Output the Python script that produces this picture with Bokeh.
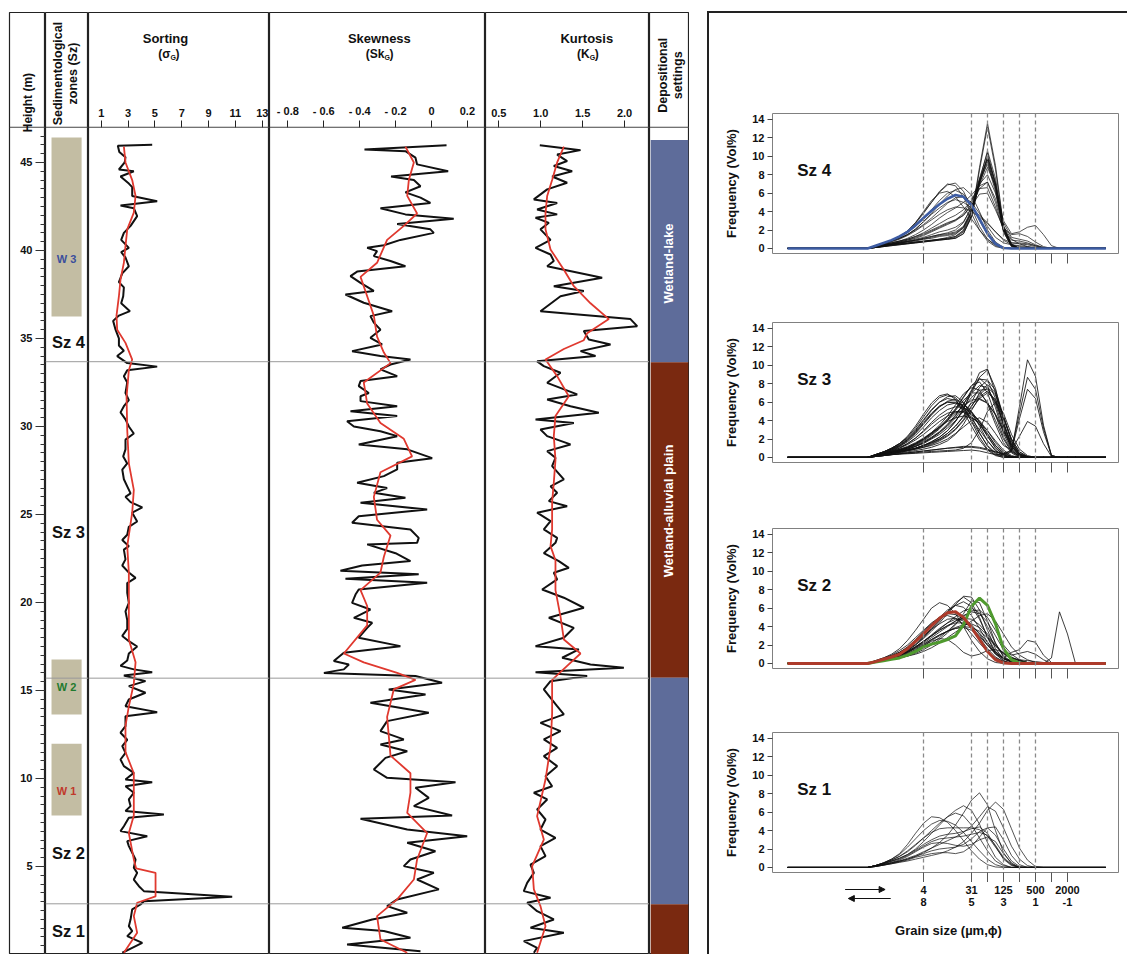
import math

from bokeh.core.properties import value
from bokeh.embed import file_html
from bokeh.layouts import column, row
from bokeh.models import (Arrow, FixedTicker, Label, LinearAxis, NormalHead,
                          Range1d, Spacer, Span)
from bokeh.plotting import figure
from bokeh.resources import INLINE

FONT = "Liberation Sans"

# ---------------- sediment log (height in m) ----------------
SORT_H = [46.0, 45.95, 45.6, 45.3, 45.0, 44.6, 44.5, 44.2, 43.8, 43.6,
          43.1, 42.8, 42.55, 42.4, 41.95, 41.4, 41.0, 40.6, 40.15, 39.9,
          39.6, 39.1, 38.7, 38.2, 37.9, 37.4, 37.0, 36.55, 36.3, 36.0,
          35.5, 35.0, 34.6, 34.3, 34.0, 33.8, 33.6, 33.4, 33.2, 32.85,
          32.5, 31.9, 31.5, 31.15, 30.8, 30.4, 30.0, 29.6, 29.25, 28.7,
          28.3, 27.9, 27.55, 27.0, 26.6, 26.2, 26.0, 25.7, 25.4, 25.1,
          24.6, 24.3, 23.85, 23.55, 23.2, 23.0, 22.45, 22.1, 21.7, 21.4,
          21.1, 20.55, 19.98, 19.5, 19.0, 18.5, 18.1, 17.8, 17.5, 17.1,
          16.7, 16.4, 16.2, 16.04, 15.85, 15.53, 15.25, 14.87, 14.49, 14.11,
          13.77, 13.54, 12.97, 12.6, 12.2, 11.84, 11.46, 11.08, 10.7, 10.32,
          9.94, 9.79, 9.56, 9.19, 8.81, 8.43, 8.15, 7.96, 7.77, 7.29,
          7.01, 6.72, 6.44, 6.16, 5.78, 5.4, 4.93, 4.64, 4.26, 3.88,
          3.6, 3.28, 3.03, 2.84, 2.56, 2.0, 1.61, 1.33, 1.04, 0.66,
          0.38, 0.1]
SORT_V = [4.80, 2.24, 2.35, 2.81, 2.75, 2.32, 3.43, 2.44, 3.06, 3.31,
          3.31, 5.17, 2.44, 3.43, 3.68, 3.19, 2.69, 2.49, 3.06, 2.49,
          2.81, 3.06, 2.57, 2.32, 2.69, 2.64, 2.49, 3.14, 2.32, 1.89,
          2.07, 2.32, 2.32, 2.69, 2.19, 2.57, 2.94, 5.17, 2.94, 2.69,
          2.94, 2.81, 3.06, 2.69, 2.44, 2.81, 3.06, 3.43, 2.81, 2.81,
          2.64, 2.94, 2.57, 2.69, 2.94, 3.19, 2.81, 3.19, 4.06, 3.31,
          3.68, 3.06, 2.94, 2.57, 3.06, 2.69, 2.81, 2.57, 3.06, 3.56,
          2.94, 2.94, 3.06, 2.81, 2.94, 2.94, 2.57, 3.06, 3.68, 3.06,
          2.94, 2.44, 3.43, 4.80, 2.69, 4.30, 3.06, 4.30, 3.06, 2.81,
          5.17, 2.81, 2.81, 2.44, 2.94, 2.57, 2.81, 2.44, 2.69, 3.43,
          2.81, 4.80, 2.81, 3.43, 3.06, 3.19, 2.81, 5.67, 3.06, 2.69,
          2.44, 4.43, 2.94, 3.06, 3.31, 3.56, 3.43, 3.68, 3.43, 3.81,
          4.18, 10.76, 4.18, 3.93, 3.31, 3.19, 3.06, 3.31, 2.94, 4.06,
          3.31, 2.57]
SORT_RED_H = [45.9, 45.0, 44.0, 43.1, 42.15, 41.2, 40.25, 39.3, 38.35, 37.4,
              36.3, 35.5, 34.75, 33.8, 33.2, 31.7, 29.8, 27.9, 26.4, 25.1,
              23.2, 21.7, 19.8, 17.9, 16.6, 15.4, 14.1, 13.0, 11.5, 10.3,
              8.8, 7.9, 6.9, 5.4, 4.9, 4.64, 3.3, 2.94, 2.18, 1.23, 0.1]
SORT_RED_V = [2.69, 2.81, 3.31, 3.56, 3.43, 2.94, 2.81, 2.69, 2.44, 2.32,
              2.14, 2.19, 2.81, 3.31, 3.06, 2.89, 2.94, 3.06, 3.43, 3.31,
              2.94, 3.06, 3.06, 3.06, 3.56, 3.43, 3.06, 2.81, 2.81, 3.43,
              3.43, 3.43, 3.06, 3.43, 3.6, 5.05, 5.05, 3.68, 3.43, 3.68, 2.69]

SKEW_H = [45.98, 45.74, 45.64, 45.27, 44.89, 44.5, 44.2, 44.0, 43.65, 43.3,
          43.0, 42.7, 42.4, 42.05, 41.8, 41.5, 41.2, 41.0, 40.6, 40.3,
          40.15, 39.96, 39.68, 39.4, 39.1, 38.8, 38.54, 38.16, 37.7, 37.5,
          37.03, 36.55, 36.27, 35.9, 35.5, 35.04, 34.66, 34.28, 34.0, 33.8,
          33.52, 33.24, 32.86, 32.58, 32.29, 31.9, 31.72, 31.44, 31.15, 30.87,
          30.59, 30.3, 30.0, 29.73, 29.45, 28.98, 28.7, 28.2, 27.94, 27.56,
          27.18, 26.8, 26.5, 26.23, 25.95, 25.66, 25.28, 24.9, 24.53, 24.15,
          23.67, 23.39, 23.3, 22.8, 22.35, 22.1, 21.8, 21.6, 21.35, 21.12,
          20.74, 20.45, 19.98, 19.6, 19.13, 18.85, 18.56, 18.0, 17.52, 17.14,
          16.67, 16.48, 16.2, 16.0, 15.82, 15.44, 15.06, 14.77, 14.3, 13.73,
          13.26, 12.69, 12.22, 11.93, 11.55, 11.17, 10.51, 10.04, 9.79, 9.47,
          8.9, 8.43, 7.9, 7.71, 7.1, 6.72, 6.35, 5.87, 5.4, 5.02,
          4.64, 4.26, 3.7, 3.13, 2.75, 2.37, 1.99, 1.52, 1.33, 0.95,
          0.57, 0.19]
SKEW_V = [0.084, -0.373, -0.145, -0.089, -0.080, 0.093, -0.225, -0.098, -0.061, -0.145,
          -0.061, -0.006, -0.284, -0.145, 0.124, -0.191, -0.006, 0.013, -0.173, -0.265,
          -0.358, -0.303, -0.321, -0.228, -0.145, -0.414, -0.451, -0.395, -0.321, -0.479,
          -0.377, -0.219, -0.340, -0.321, -0.284, -0.340, -0.275, -0.442, -0.284, -0.117,
          -0.228, -0.284, -0.191, -0.395, -0.405, -0.349, -0.395, -0.395, -0.191, -0.451,
          -0.191, -0.470, -0.432, -0.284, -0.191, -0.405, -0.135, 0.004, -0.191, -0.191,
          -0.265, -0.414, -0.247, -0.321, -0.145, -0.395, -0.024, -0.405, -0.442, -0.117,
          -0.071, -0.080, -0.358, -0.200, -0.117, -0.386, -0.507, -0.071, -0.479, -0.024,
          -0.405, -0.423, -0.442, -0.340, -0.432, -0.330, -0.358, -0.405, -0.173, -0.488,
          -0.544, -0.460, -0.488, -0.599, -0.089, 0.059, -0.238, -0.033, -0.340, -0.015,
          -0.247, -0.284, -0.154, -0.284, -0.135, -0.256, -0.321, -0.247, 0.134, -0.089,
          -0.015, -0.098, 0.115, -0.395, -0.135, 0.199, -0.135, 0.022, -0.117, -0.154,
          0.013, -0.080, 0.041, -0.191, -0.247, -0.135, -0.330, -0.497, -0.265, -0.117,
          -0.470, -0.061]
SKEW_RED_H = [45.9, 45.0, 44.0, 43.1, 42.1, 41.4, 40.6, 39.3, 38.5, 37.4,
              36.3, 35.1, 34.2, 33.6, 32.5, 31.3, 30.2, 29.3, 28.3, 27.4,
              26.0, 24.7, 23.8, 22.6, 21.7, 20.7, 19.8, 18.7, 17.1, 16.6,
              16.0, 15.6, 15.06, 13.5, 11.3, 10.3, 9.2, 8.05, 6.9, 5.4,
              4.26, 3.13, 2.18, 0.85, 0.1]
SKEW_RED_V = [-0.145, -0.098, -0.126, -0.135, -0.080, -0.154, -0.247, -0.303, -0.395, -0.358,
              -0.321, -0.303, -0.265, -0.228, -0.377, -0.358, -0.284, -0.154, -0.108, -0.284,
              -0.321, -0.303, -0.228, -0.265, -0.284, -0.395, -0.358, -0.358, -0.488, -0.377,
              -0.191, -0.089, -0.210, -0.247, -0.228, -0.117, -0.117, -0.135, -0.024, -0.080,
              -0.098, -0.191, -0.303, -0.284, -0.135]

KURT_H = [45.98, 45.7, 45.45, 45.08, 44.8, 44.5, 44.2, 43.85, 43.47, 42.9,
          42.7, 42.33, 42.05, 41.86, 41.57, 41.2, 40.6, 40.15, 39.77, 39.4,
          39.1, 38.45, 37.97, 37.7, 37.4, 36.55, 36.1, 35.7, 35.42, 34.94,
          34.66, 34.28, 34.0, 33.7, 33.43, 33.05, 32.48, 31.82, 31.53, 31.15,
          30.78, 30.4, 30.2, 29.83, 29.45, 28.98, 28.6, 28.22, 27.75, 26.99,
          26.6, 26.23, 25.76, 25.47, 25.1, 24.62, 24.15, 23.67, 23.39, 22.8,
          22.35, 21.97, 21.69, 21.31, 20.74, 20.27, 19.7, 19.13, 18.56, 18.0,
          17.52, 17.33, 16.86, 16.48, 16.29, 16.04, 15.82, 15.53, 15.06, 14.58,
          14.11, 13.64, 13.16, 12.69, 12.22, 11.74, 11.27, 10.7, 10.13, 9.56,
          9.19, 8.81, 8.24, 7.67, 7.1, 6.63, 6.16, 5.59, 5.11, 4.64,
          4.07, 3.6, 3.22, 2.94, 2.46, 1.99, 1.52, 1.23, 0.76, 0.38,
          0.1]
KURT_V = [0.989, 1.475, 1.196, 1.315, 1.156, 1.375, 1.136, 1.315, 1.077, 0.918,
          1.196, 0.957, 1.196, 0.938, 1.097, 0.997, 1.117, 0.938, 1.117, 1.156,
          1.077, 1.733, 1.156, 1.514, 1.236, 0.997, 2.071, 2.151, 1.514, 1.574,
          1.833, 1.475, 1.654, 0.957, 1.037, 1.236, 1.077, 1.435, 1.077, 1.355,
          1.693, 0.938, 1.395, 0.997, 1.077, 1.355, 1.077, 1.176, 1.136, 1.276,
          1.117, 1.196, 1.097, 1.315, 0.957, 1.117, 1.037, 1.196, 1.176, 1.037,
          1.216, 1.335, 1.156, 1.196, 1.017, 1.276, 1.514, 1.097, 1.395, 1.276,
          0.938, 1.455, 1.256, 1.594, 1.992, 0.938, 1.554, 1.117, 1.037, 1.117,
          1.196, 1.276, 0.997, 1.236, 1.037, 1.196, 1.037, 1.196, 1.057, 1.136,
          0.918, 1.077, 0.957, 1.057, 0.997, 1.176, 0.997, 1.057, 0.878, 0.918,
          0.838, 0.798, 1.117, 0.838, 0.957, 1.156, 0.878, 1.276, 0.798, 0.957,
          0.918]
KURT_RED_H = [45.9, 45.0, 44.0, 43.1, 42.1, 41.2, 40.06, 38.9, 37.97, 37.0,
              36.1, 35.3, 34.9, 34.4, 33.8, 32.86, 31.72, 30.6, 29.45, 28.1,
              26.8, 25.7, 24.15, 23.2, 22.4, 20.7, 19.2, 17.9, 17.1, 16.4,
              15.6, 13.7, 11.8, 9.94, 7.86, 6.53, 5.02, 3.7, 2.75, 1.61, 0.1]
KURT_RED_V = [1.276, 1.196, 1.136, 1.077, 1.057, 1.057, 1.117, 1.276, 1.395, 1.594,
              1.813, 1.554, 1.514, 1.276, 1.057, 1.196, 1.335, 1.176, 1.156, 1.176,
              1.156, 1.136, 1.136, 1.117, 1.176, 1.176, 1.236, 1.276, 1.475, 1.315,
              1.136, 1.136, 1.117, 1.057, 0.957, 1.037, 0.898, 0.918, 0.997, 1.057, 0.957]

HEIGHT_TICKS = [5, 10, 15, 20, 25, 30, 35, 40, 45]
HEIGHT_MINOR = [0.5 * i for i in range(1, 94)]
SORT_TICKS = [1, 3, 5, 7, 9, 11, 13]
SORT_TICK_LABELS = ["1", "3", "5", "7", "9", "11", "13"]
SKEW_TICKS = [-0.8, -0.6, -0.4, -0.2, 0, 0.2]
SKEW_TICK_LABELS = ["- 0.8", "- 0.6", "- 0.4", "- 0.2", "0", "0.2"]
KURT_TICKS = [0.5, 1.0, 1.5, 2.0]
KURT_TICK_LABELS = ["0.5", "1.0", "1.5", "2.0"]

ZONE_BOUNDS = [33.68, 15.7, 2.88]
ZONE_NAMES = ["Sz 4", "Sz 3", "Sz 2", "Sz 1"]
ZONE_LABEL_Y = [34.8, 23.98, 5.74, 1.36]

W_NAMES = ["W 3", "W 2", "W 1"]
W_TOP = [46.42, 16.76, 11.97]
W_BOTTOM = [36.25, 13.64, 7.9]
W_LABEL_Y = [39.5, 15.17, 9.3]
W_COLORS = ["#3b4f9c", "#1f7a2e", "#c0392b"]

DEP_TOP = [46.28, 33.65, 15.73, 2.85]
DEP_BOTTOM = [33.65, 15.73, 2.85, 0.0]
DEP_COLORS = ["#5e6c9a", "#7a2910", "#5e6c9a", "#7a2910"]
DEP_LABELS = ["Wetland-lake", "Wetland-alluvial plain"]
DEP_LABEL_Y = [39.26, 25.2]

# ---------------- grain-size distributions (phi grid) ----------------
PHI_GRID = [11.5, 11.0, 10.5, 10.0, 9.5, 9.0, 8.5, 8.0, 7.5, 7.0, 6.5, 6.0, 5.5, 5.0,
            4.5, 4.0, 3.5, 3.0, 2.5, 2.0, 1.5, 1.0, 0.5, 0.0, -0.5, -1.0, -1.5]
PHI_FINE_END = 16.5
PHI_COARSE_END = -3.4
GRAIN_CLASS_PHI = [8, 5, 4, 3, 2, 1]
GRAIN_TICKS = [8, 5, 4, 3, 2, 1, 0, -1]
GRAIN_LABEL_PHI = [8, 5, 3, 1, -1]
GRAIN_LABELS = ["4\n8", "31\n5", "125\n3", "500\n1", "2000\n-1"]
FREQ_TICKS = [0, 2, 4, 6, 8, 10, 12, 14]

SZ4_CURVES = [
    [0, 0.3, 0.6, 0.9, 1.3, 1.9, 2.8, 3.9, 5.0, 6.1, 6.9, 7.1, 6.2, 4.4, 2.4, 1.0, 0.3, 0.05],
    [0, 0.25, 0.5, 0.8, 1.2, 1.8, 2.7, 3.8, 5.0, 6.2, 7.0, 6.8, 5.6, 3.8, 2.0, 0.8, 0.2],
    [0, 0.3, 0.6, 0.9, 1.2, 1.7, 2.4, 3.2, 4.2, 5.2, 6.0, 6.3, 5.9, 4.7, 3.0, 1.5, 0.5, 0.1],
    [0, 0.2, 0.5, 0.8, 1.1, 1.5, 2.1, 2.9, 3.8, 4.8, 5.7, 6.4, 6.6, 5.8, 4.0, 2.0, 0.7, 0.1],
    [0, 0.25, 0.55, 0.9, 1.3, 1.9, 2.8, 4.0, 5.2, 6.0, 6.2, 5.6, 4.5, 3.2, 2.0, 1.0, 0.4, 0.1],
    [0, 0.2, 0.5, 0.8, 1.1, 1.5, 2.0, 2.6, 3.3, 4.1, 4.9, 5.5, 5.6, 5.0, 3.8, 2.4, 1.2, 0.6, 0.4, 0.3, 0.2, 0.1],
    [0, 0.2, 0.4, 0.7, 1.0, 1.4, 1.9, 2.5, 3.1, 3.7, 4.2, 4.5, 4.4, 4.0, 3.4, 2.7, 1.8, 1.0, 0.6, 0.5, 0.4, 0.2],
    [0, 0.2, 0.5, 0.8, 1.1, 1.5, 2.1, 2.9, 3.7, 4.4, 5.0, 5.3, 5.0, 4.4, 3.6, 2.8, 1.8, 0.9, 0.4, 0.2, 0.1],
    [0, 0.2, 0.4, 0.6, 0.8, 1.1, 1.5, 2.0, 2.6, 3.3, 3.9, 4.4, 5.0, 5.8, 6.8, 7.2, 5.0, 2.0, 0.5],
    [0, 0.2, 0.4, 0.6, 0.8, 1.0, 1.3, 1.7, 2.2, 2.7, 3.2, 3.6, 4.2, 5.2, 6.5, 6.6, 4.5, 2.0, 0.9, 0.8, 0.6, 0.3, 0.1],
    [0, 0.15, 0.35, 0.5, 0.7, 0.9, 1.1, 1.4, 1.8, 2.2, 2.6, 3.0, 3.6, 4.6, 5.9, 6.0, 4.2, 2.2, 1.5, 1.6, 1.3, 0.7, 0.2],
    [0, 0.15, 0.3, 0.5, 0.7, 0.9, 1.2, 1.5, 1.9, 2.3, 2.7, 3.1, 3.8, 5.2, 7.0, 8.0, 6.0, 2.8, 1.2, 1.0, 0.8, 0.4, 0.1],
    [0, 0.15, 0.3, 0.45, 0.6, 0.75, 0.9, 1.1, 1.3, 1.5, 1.6, 1.8, 2.4, 4.2, 7.5, 9.6, 6.5, 1.8, 0.2],
    [0, 0.15, 0.3, 0.45, 0.6, 0.75, 0.9, 1.0, 1.2, 1.4, 1.5, 1.7, 2.3, 4.0, 7.3, 9.8, 6.9, 2.0, 0.3],
    [0, 0.15, 0.3, 0.4, 0.55, 0.7, 0.8, 1.0, 1.1, 1.3, 1.4, 1.6, 2.2, 3.9, 7.0, 9.4, 6.6, 2.0, 0.3],
    [0, 0.2, 0.35, 0.5, 0.65, 0.8, 1.0, 1.2, 1.5, 1.8, 2.0, 2.3, 2.9, 4.4, 7.2, 9.2, 6.2, 1.8, 0.2],
    [0, 0.1, 0.25, 0.4, 0.5, 0.6, 0.7, 0.8, 0.9, 1.0, 1.1, 1.3, 1.9, 3.6, 7.2, 10.0, 7.2, 2.2, 0.3],
    [0, 0.1, 0.25, 0.35, 0.45, 0.55, 0.65, 0.75, 0.85, 0.95, 1.0, 1.2, 1.8, 3.4, 7.4, 10.6, 7.6, 2.4, 0.4],
    [0, 0.1, 0.2, 0.3, 0.4, 0.5, 0.6, 0.7, 0.8, 0.9, 1.0, 1.1, 1.6, 3.5, 8.8, 13.6, 9.0, 2.5, 0.4],
    [0, 0.1, 0.2, 0.3, 0.4, 0.5, 0.6, 0.7, 0.8, 0.9, 1.0, 1.1, 1.6, 3.4, 8.5, 13.2, 8.6, 2.3, 0.3],
    [0, 0.15, 0.3, 0.45, 0.6, 0.75, 0.9, 1.1, 1.3, 1.5, 1.7, 2.0, 2.8, 4.5, 6.5, 7.2, 5.4, 2.4, 1.0, 0.5, 0.2],
    [0, 0.1, 0.25, 0.4, 0.5, 0.6, 0.7, 0.8, 0.9, 1.0, 1.2, 1.5, 2.3, 4.0, 6.8, 8.8, 6.8, 3.0, 1.6, 1.8, 2.3, 2.5, 1.5, 0.3],
    [0, 0.1, 0.2, 0.35, 0.45, 0.55, 0.65, 0.75, 0.85, 1.0, 1.1, 1.3, 2.0, 3.8, 7.0, 9.9, 7.0, 2.1, 0.3],
    [0, 0.2, 0.4, 0.6, 0.8, 1.0, 1.3, 1.6, 2.0, 2.4, 2.8, 3.1, 3.6, 4.8, 7.6, 10.4, 7.0, 2.2, 0.6, 0.6, 0.5, 0.3],
]
SZ4_MEAN = [0, 0.3, 0.6, 0.9, 1.3, 1.8, 2.5, 3.3, 4.1, 4.8, 5.4, 5.8, 5.6, 4.7, 3.2, 1.6, 0.5, 0.05]

SZ3_CURVES = [
    [0, 0.3, 0.6, 1.0, 1.5, 2.3, 3.4, 4.7, 5.9, 6.7, 6.9, 6.3, 5.0, 3.4, 1.9, 0.8, 0.2],
    [0, 0.3, 0.6, 1.0, 1.5, 2.2, 3.2, 4.4, 5.6, 6.5, 6.8, 6.5, 5.5, 3.9, 2.2, 0.9, 0.3],
    [0, 0.3, 0.6, 0.9, 1.4, 2.0, 2.9, 4.0, 5.1, 6.0, 6.6, 6.7, 6.0, 4.5, 2.7, 1.2, 0.4, 0.1],
    [0, 0.25, 0.5, 0.8, 1.2, 1.8, 2.6, 3.6, 4.6, 5.5, 6.1, 6.3, 5.9, 4.9, 3.4, 1.8, 0.7, 0.2],
    [0, 0.3, 0.6, 0.9, 1.3, 1.9, 2.8, 3.8, 4.8, 5.6, 6.0, 5.9, 5.2, 4.0, 2.6, 1.3, 0.5, 0.1],
    [0, 0.25, 0.5, 0.8, 1.2, 1.7, 2.4, 3.3, 4.3, 5.1, 5.7, 5.9, 5.7, 5.0, 3.8, 2.3, 1.0, 0.3],
    [0, 0.2, 0.45, 0.7, 1.0, 1.5, 2.1, 2.9, 3.8, 4.6, 5.2, 5.5, 5.4, 4.9, 3.9, 2.6, 1.3, 0.4, 0.1],
    [0, 0.25, 0.5, 0.75, 1.1, 1.5, 2.1, 2.8, 3.6, 4.3, 4.8, 5.0, 4.9, 4.4, 3.6, 2.5, 1.3, 0.5, 0.1],
    [0, 0.2, 0.4, 0.7, 1.0, 1.4, 1.9, 2.5, 3.2, 3.9, 4.5, 4.9, 5.0, 4.7, 4.0, 2.9, 1.6, 0.6, 0.1],
    [0, 0.2, 0.4, 0.65, 0.9, 1.2, 1.6, 2.1, 2.7, 3.3, 3.9, 4.3, 4.5, 4.3, 3.8, 2.9, 1.8, 0.8, 0.2],
    [0, 0.3, 0.6, 1.0, 1.5, 2.1, 3.0, 4.1, 5.2, 6.0, 6.4, 6.2, 5.4, 4.2, 3.0, 1.8, 0.8, 0.2],
    [0, 0.3, 0.55, 0.9, 1.3, 1.9, 2.7, 3.7, 4.7, 5.5, 6.0, 6.0, 5.5, 4.7, 3.6, 2.3, 1.1, 0.3],
    [0, 0.15, 0.3, 0.5, 0.7, 0.9, 1.2, 1.6, 2.1, 2.7, 3.5, 4.5, 5.8, 7.3, 8.5, 8.4, 6.4, 3.5, 1.2, 0.2],
    [0, 0.2, 0.35, 0.55, 0.8, 1.0, 1.4, 1.9, 2.5, 3.2, 4.1, 5.2, 6.5, 7.8, 8.6, 7.8, 5.4, 2.6, 0.8, 0.1],
    [0, 0.15, 0.3, 0.45, 0.6, 0.8, 1.0, 1.3, 1.7, 2.2, 2.9, 3.9, 5.3, 7.0, 8.7, 9.5, 7.5, 3.9, 1.2, 0.2],
    [0, 0.15, 0.3, 0.45, 0.6, 0.8, 1.0, 1.3, 1.7, 2.2, 2.9, 3.9, 5.2, 7.2, 9.2, 9.6, 7.0, 3.3, 0.9, 0.1],
    [0, 0.2, 0.4, 0.6, 0.8, 1.1, 1.5, 2.0, 2.6, 3.3, 4.2, 5.3, 6.6, 7.8, 8.2, 7.0, 4.6, 2.2, 0.7, 0.1],
    [0, 0.2, 0.4, 0.6, 0.85, 1.1, 1.5, 2.0, 2.7, 3.5, 4.5, 5.7, 6.9, 7.6, 7.3, 5.8, 3.6, 1.6, 0.5],
    [0, 0.15, 0.3, 0.5, 0.7, 0.9, 1.2, 1.6, 2.1, 2.7, 3.4, 4.3, 5.4, 6.5, 7.3, 7.4, 6.1, 3.7, 1.5, 0.4, 0.1],
    [0, 0.2, 0.35, 0.55, 0.75, 1.0, 1.3, 1.7, 2.2, 2.8, 3.6, 4.6, 5.8, 7.0, 7.8, 7.6, 5.8, 3.0, 1.0, 0.2],
    [0, 0.15, 0.3, 0.45, 0.6, 0.8, 1.0, 1.3, 1.6, 2.0, 2.6, 3.4, 4.4, 5.6, 6.8, 7.6, 6.8, 4.4, 2.0, 0.6, 0.1],
    [0, 0.2, 0.4, 0.6, 0.8, 1.05, 1.4, 1.8, 2.4, 3.1, 4.0, 5.1, 6.2, 7.0, 7.0, 6.0, 4.0, 2.0, 0.6, 0.1],
    [0, 0.1, 0.25, 0.4, 0.55, 0.7, 0.9, 1.1, 1.4, 1.8, 2.3, 3.0, 4.0, 5.2, 6.4, 7.0, 6.3, 4.2, 2.0, 0.6, 0.1],
    [0, 0.15, 0.3, 0.45, 0.6, 0.8, 1.0, 1.3, 1.6, 2.0, 2.6, 3.4, 4.5, 6.0, 7.6, 8.4, 7.3, 4.5, 1.8, 0.4],
    [0, 0.2, 0.4, 0.6, 0.85, 1.1, 1.5, 2.0, 2.6, 3.3, 4.0, 4.8, 5.6, 6.2, 6.4, 5.9, 4.6, 2.8, 1.2, 0.3],
    [0, 0.1, 0.2, 0.35, 0.5, 0.6, 0.75, 0.9, 1.1, 1.4, 1.8, 2.5, 3.6, 5.1, 6.6, 7.2, 6.0, 3.6, 1.4, 0.3],
    [0, 0.15, 0.3, 0.5, 0.7, 0.9, 1.2, 1.5, 2.0, 2.5, 3.2, 4.0, 5.0, 5.9, 6.3, 5.9, 4.7, 3.0, 1.4, 0.4],
    [0, 0.15, 0.3, 0.45, 0.6, 0.75, 0.95, 1.2, 1.5, 1.9, 2.4, 3.1, 4.1, 5.5, 7.0, 7.9, 7.0, 4.4, 1.7, 0.4],
    [0, 0.1, 0.2, 0.3, 0.4, 0.45, 0.5, 0.6, 0.65, 0.7, 0.75, 0.8, 1.0, 1.6, 3.0, 5.0, 6.0, 4.8, 2.5, 0.9, 0.2],
    [0, 0.1, 0.2, 0.3, 0.35, 0.4, 0.45, 0.5, 0.55, 0.6, 0.65, 0.7, 0.75, 0.8, 0.7, 0.5, 0.3, 0.3, 0.6, 5.5, 10.6, 8.8, 3.5, 0.2],
    [0, 0.1, 0.2, 0.3, 0.4, 0.5, 0.6, 0.7, 0.8, 0.9, 1.0, 1.1, 1.2, 1.2, 1.1, 0.9, 0.6, 0.4, 0.8, 4.8, 8.7, 7.4, 3.2, 0.2],
    [0, 0.1, 0.2, 0.3, 0.4, 0.5, 0.6, 0.7, 0.8, 0.9, 1.0, 1.05, 1.1, 1.1, 1.0, 0.8, 0.6, 0.4, 0.7, 4.2, 7.4, 6.4, 2.8, 0.2],
    [0, 0.15, 0.3, 0.45, 0.6, 0.75, 0.9, 1.1, 1.3, 1.6, 2.0, 2.6, 3.3, 4.0, 4.3, 3.8, 2.6, 1.3, 0.8, 2.3, 3.9, 3.4, 1.5, 0.1],
]

SZ2_CURVES = [
    [0, 0.3, 0.6, 1.0, 1.6, 2.5, 3.6, 4.8, 6.0, 6.6, 6.3, 5.4, 4.0, 2.5, 1.3, 0.5, 0.1],
    [0, 0.2, 0.4, 0.7, 1.0, 1.4, 2.0, 2.7, 3.5, 4.4, 5.4, 6.4, 7.3, 7.2, 5.8, 3.6, 1.6, 0.5, 0.1],
    [0, 0.2, 0.4, 0.7, 1.0, 1.4, 2.0, 2.8, 3.7, 4.6, 5.6, 6.6, 7.2, 6.6, 5.0, 2.8, 1.1, 0.3],
    [0, 0.2, 0.45, 0.7, 1.0, 1.5, 2.1, 2.9, 3.8, 4.7, 5.6, 6.3, 6.7, 6.2, 4.8, 2.9, 1.3, 0.5, 0.2],
    [0, 0.25, 0.5, 0.8, 1.2, 1.7, 2.4, 3.2, 4.1, 5.0, 5.8, 6.3, 6.1, 5.2, 3.8, 2.3, 1.0, 0.3],
    [0, 0.25, 0.5, 0.8, 1.2, 1.8, 2.6, 3.5, 4.3, 5.0, 5.4, 5.3, 4.8, 3.9, 2.8, 1.6, 0.7, 0.2],
    [0, 0.2, 0.4, 0.6, 0.9, 1.3, 1.8, 2.4, 3.0, 3.6, 4.1, 4.6, 4.9, 4.8, 4.2, 3.2, 2.0, 1.1, 0.6, 0.3, 0.1],
    [0, 0.2, 0.4, 0.65, 0.9, 1.3, 1.8, 2.4, 3.0, 3.6, 4.1, 4.4, 4.4, 4.0, 3.3, 2.3, 1.3, 0.6, 0.2],
    [0, 0.2, 0.35, 0.55, 0.8, 1.1, 1.5, 2.0, 2.6, 3.1, 3.5, 3.9, 4.2, 4.3, 3.9, 3.0, 1.9, 1.0, 0.5, 0.3, 0.1],
    [0, 0.2, 0.4, 0.6, 0.9, 1.3, 1.8, 2.4, 3.1, 3.8, 4.4, 4.8, 4.8, 4.2, 3.2, 2.0, 1.0, 0.6, 1.2, 1.5, 2.5, 2.3, 0.9, 0.1],
    [0, 0.15, 0.3, 0.5, 0.7, 1.0, 1.4, 1.9, 2.5, 3.0, 3.5, 3.8, 3.9, 3.6, 2.9, 2.0, 1.2, 0.6, 0.3, 0.1, 0, 0, 0, 0.6, 5.6, 3.2, 0],
    [0, 0.15, 0.3, 0.5, 0.7, 1.0, 1.3, 1.7, 2.2, 2.8, 3.5, 4.3, 5.1, 5.7, 5.8, 5.0, 3.6, 2.0, 1.0, 0.4, 0.1],
    [0, 0.15, 0.3, 0.45, 0.6, 0.8, 1.0, 1.3, 1.7, 2.2, 2.8, 3.4, 4.0, 4.6, 5.2, 5.4, 4.6, 3.2, 1.8, 0.9, 0.4, 0.1],
    [0, 0.25, 0.5, 0.8, 1.2, 1.7, 2.3, 3.0, 3.7, 4.3, 4.8, 4.9, 4.6, 3.9, 3.0, 2.0, 1.1, 0.5, 0.2],
    [0, 0.2, 0.4, 0.6, 0.85, 1.2, 1.6, 2.1, 2.6, 3.1, 3.5, 3.8, 4.0, 3.9, 3.5, 2.8, 1.9, 1.1, 0.6, 0.4, 0.3, 0.2, 0.1],
    [0, 0.2, 0.4, 0.6, 0.9, 1.2, 1.7, 2.3, 3.0, 3.7, 4.4, 5.1, 5.7, 6.0, 5.5, 4.0, 2.2, 0.8, 0.2],
    [0, 0.15, 0.3, 0.5, 0.7, 1.0, 1.4, 1.9, 2.4, 2.7, 2.6, 2.0, 1.2, 0.8, 1.0, 1.4, 1.5, 1.2, 0.7, 0.3, 0.1],
    [0, 0.3, 0.6, 0.9, 1.4, 2.0, 2.8, 3.6, 4.4, 5.0, 5.2, 4.9, 4.2, 3.2, 2.2, 1.3, 0.6, 0.2],
    [0, 0.15, 0.3, 0.45, 0.6, 0.8, 1.1, 1.5, 2.0, 2.6, 3.3, 4.2, 5.4, 6.8, 6.6, 4.6, 2.2, 0.7, 0.1],
    [0, 0.2, 0.4, 0.6, 0.9, 1.2, 1.7, 2.2, 2.8, 3.4, 4.0, 4.6, 5.2, 5.6, 5.4, 4.5, 3.0, 1.5, 0.9, 1.1, 1.3, 1.0, 0.4],
]
SZ2_W2_MEAN = [0, 0.15, 0.3, 0.45, 0.6, 0.9, 1.3, 1.8, 2.1, 2.3, 2.6, 3.0, 4.2, 6.2, 7.1, 6.3, 4.3, 1.6, 0.4, 0.05]
SZ2_W1_MEAN = [0, 0.2, 0.45, 0.7, 1.0, 1.6, 2.4, 3.2, 4.1, 4.9, 5.5, 5.6, 5.0, 3.9, 2.6, 1.3, 0.4, 0.05]

SZ1_CURVES = [
    [0, 0.2, 0.5, 0.9, 1.5, 2.5, 3.7, 4.8, 5.5, 5.4, 4.9, 4.0, 2.9, 1.8, 0.9, 0.3, 0.05],
    [0, 0.2, 0.5, 0.9, 1.4, 2.2, 3.1, 4.0, 4.7, 5.1, 5.0, 4.6, 3.8, 2.8, 1.8, 0.9, 0.3, 0.05],
    [0, 0.2, 0.45, 0.8, 1.2, 1.7, 2.4, 3.2, 4.0, 4.8, 5.5, 5.9, 5.6, 4.6, 3.2, 1.8, 0.7, 0.2],
    [0, 0.2, 0.4, 0.7, 1.0, 1.4, 2.0, 2.8, 3.7, 4.6, 5.5, 6.2, 6.7, 6.2, 4.7, 2.7, 1.1, 0.3],
    [0, 0.1, 0.3, 0.5, 0.7, 0.9, 1.2, 1.6, 2.1, 2.7, 3.5, 4.6, 5.9, 7.3, 8.1, 6.8, 4.0, 1.6, 0.4],
    [0, 0.1, 0.25, 0.4, 0.55, 0.7, 0.9, 1.1, 1.3, 1.5, 1.8, 2.2, 2.8, 3.7, 4.8, 6.2, 7.1, 6.3, 4.2, 2.1, 0.8, 0.1],
    [0, 0.15, 0.3, 0.5, 0.7, 1.0, 1.3, 1.7, 2.1, 2.5, 2.9, 3.3, 3.8, 4.5, 5.5, 6.6, 6.1, 4.3, 2.3, 0.9, 0.2],
    [0, 0.2, 0.5, 0.8, 1.2, 1.8, 2.5, 3.2, 3.8, 4.2, 4.3, 4.3, 4.3, 4.3, 4.1, 3.4, 2.2, 1.0, 0.3],
    [0, 0.2, 0.45, 0.7, 1.0, 1.4, 1.9, 2.5, 3.0, 3.4, 3.6, 3.7, 3.9, 4.2, 4.4, 3.7, 2.3, 0.9, 0.2],
    [0, 0.2, 0.4, 0.65, 0.9, 1.3, 1.8, 2.3, 2.8, 3.1, 3.2, 3.3, 3.4, 3.6, 3.8, 3.5, 2.4, 1.1, 0.3],
    [0, 0.15, 0.35, 0.55, 0.8, 1.2, 1.7, 2.2, 2.6, 2.7, 2.6, 2.4, 2.3, 2.5, 3.0, 3.3, 2.8, 1.5, 0.5],
    [0, 0.1, 0.25, 0.4, 0.6, 0.8, 1.1, 1.3, 1.5, 1.6, 1.6, 1.5, 1.7, 2.3, 3.3, 4.3, 4.4, 3.0, 1.3, 0.3],
    [0, 0.1, 0.25, 0.45, 0.65, 0.9, 1.2, 1.5, 1.8, 2.0, 2.1, 2.2, 2.5, 3.1, 3.9, 4.3, 3.5, 2.0, 0.7, 0.1],
]

# ---------------- layout constants ----------------
Y_TOP = 53.52      # height value at the top edge of the log frame
HEADER_Y = 47.0    # header/log separation
INK = "#111111"
RED = "#e0392f"
TAN = "#c3bda3"


def add_text(p, x, y, s, size, angle=0.0, color=INK, align="center",
             baseline="middle", x_offset=0, y_offset=0, style="bold"):
    p.add_layout(Label(x=x, y=y, text=s, angle=angle, text_font=FONT,
                       text_font_size=f"{size}px", text_font_style=style,
                       text_color=color, text_align=align, text_baseline=baseline,
                       x_offset=x_offset, y_offset=y_offset))


def add_sub_title(p, x, y, main, right_edge):
    # "(main" + subscript G + ")"
    add_text(p, x, y, "(" + main, 12, align="right", x_offset=right_edge)
    add_text(p, x, y, "G", 7, align="left", x_offset=right_edge, y_offset=-4)
    add_text(p, x, y, ")", 12, align="left", x_offset=right_edge + 5)


def log_panel(width, x_range, left=0):
    p = figure(frame_width=width, frame_height=942, x_range=x_range,
               y_range=Range1d(0, Y_TOP), x_axis_location=None, y_axis_location=None,
               toolbar_location=None, output_backend="svg",
               min_border_left=left, min_border_right=0, min_border_top=12,
               min_border_bottom=0)
    p.xgrid.visible = False
    p.ygrid.visible = False
    p.outline_line_color = "#222222"
    p.outline_line_width = 1.2
    p.add_layout(Span(location=HEADER_Y, dimension="width", line_color="#444444",
                      line_width=1))
    return p


def header_axis(p, ticks, labels):
    ax = LinearAxis(fixed_location=HEADER_Y, ticker=FixedTicker(ticks=ticks),
                    major_label_overrides=dict(zip(ticks, labels)),
                    axis_line_color=None, major_tick_out=7, major_tick_in=0,
                    major_tick_line_color="#222222", minor_tick_line_color=None,
                    major_label_standoff=3, major_label_text_font=FONT,
                    major_label_text_font_style="bold",
                    major_label_text_font_size="11px", major_label_text_color=INK)
    p.add_layout(ax, "above")


def zone_lines(p):
    for b in ZONE_BOUNDS:
        p.add_layout(Span(location=b, dimension="width", line_color="#9a9a9a",
                          line_width=1))


# Height column
p_h = log_panel(36, Range1d(0, 1), left=9)
h_axis = LinearAxis(fixed_location=1, ticker=FixedTicker(ticks=HEIGHT_TICKS,
                                                         minor_ticks=HEIGHT_MINOR),
                    axis_line_color="#333333", major_tick_out=10, major_tick_in=0,
                    minor_tick_out=5, minor_tick_in=0, major_tick_line_color="#333333",
                    minor_tick_line_color="#333333", major_label_standoff=3,
                    major_label_text_font=FONT, major_label_text_font_style="bold",
                    major_label_text_font_size="11px", major_label_text_color=INK)
p_h.add_layout(h_axis, "left")
add_text(p_h, 0.5, 48.4, "Height (m)", 12, angle=math.pi / 2)

# Sedimentological zones column
p_sz = log_panel(43, Range1d(0, 1))
p_sz.quad(left=0.14, right=0.84, top=W_TOP, bottom=W_BOTTOM, fill_color=TAN,
          line_color=None)
for name, y, c in zip(W_NAMES, W_LABEL_Y, W_COLORS):
    add_text(p_sz, 0.49, y, name, 11, color=c)
for name, y in zip(ZONE_NAMES, ZONE_LABEL_Y):
    add_text(p_sz, 0.535, y, name, 16.5)
zone_lines(p_sz)
add_text(p_sz, 0.30, 50.05, "Sedimentological", 12.5, angle=math.pi / 2)
add_text(p_sz, 0.64, 50.05, "zones (Sz)", 12.5, angle=math.pi / 2)

# Sorting column
p_sort = log_panel(181, Range1d(0.054, 13.54))
header_axis(p_sort, SORT_TICKS, SORT_TICK_LABELS)
zone_lines(p_sort)
p_sort.line(SORT_V, SORT_H, line_color=INK, line_width=2)
p_sort.line(SORT_RED_V, SORT_RED_H, line_color=RED, line_width=1.8)
add_text(p_sort, 5.79, 52.07, "Sorting", 13)
add_sub_title(p_sort, 6.09, 51.19, "σ", 1)

# Skewness column
p_skew = log_panel(216, Range1d(-0.902, 0.301))
header_axis(p_skew, SKEW_TICKS, SKEW_TICK_LABELS)
zone_lines(p_skew)
p_skew.line(SKEW_V, SKEW_H, line_color=INK, line_width=2)
p_skew.line(SKEW_RED_V, SKEW_RED_H, line_color=RED, line_width=1.8)
add_text(p_skew, -0.29, 52.07, "Skewness", 13)
add_sub_title(p_skew, -0.29, 51.19, "Sk", 5)

# Kurtosis column
p_kurt = log_panel(164, Range1d(0.341, 2.298))
header_axis(p_kurt, KURT_TICKS, KURT_TICK_LABELS)
zone_lines(p_kurt)
p_kurt.line(KURT_V, KURT_H, line_color=INK, line_width=2)
p_kurt.line(KURT_RED_V, KURT_RED_H, line_color=RED, line_width=1.8)
add_text(p_kurt, 1.55, 52.07, "Kurtosis", 13)
add_sub_title(p_kurt, 1.56, 51.19, "K", 2)

# Depositional settings column
p_dep = log_panel(40, Range1d(0, 1))
p_dep.quad(left=0.03, right=0.97, top=DEP_TOP, bottom=DEP_BOTTOM,
           fill_color=DEP_COLORS, line_color=None)
for name, y in zip(DEP_LABELS, DEP_LABEL_Y):
    add_text(p_dep, 0.48, y, name, 13, angle=math.pi / 2, color="white")
add_text(p_dep, 0.33, 49.95, "Depositional", 12.5, angle=math.pi / 2)
add_text(p_dep, 0.72, 49.95, "settings", 12.5, angle=math.pi / 2)


# ---------------- grain-size panels ----------------
PHI_RANGE = Range1d(17.44, -4.19)


def curve_xy(vals):
    padded = list(vals) + [0] * (len(PHI_GRID) - len(vals))
    return [PHI_FINE_END] + PHI_GRID + [PHI_COARSE_END], [0] + padded + [0]


def dist_panel(curves, label, top, bottom, curve_width=0.8):
    p = figure(frame_width=346, frame_height=140, x_range=PHI_RANGE,
               y_range=Range1d(-0.55, 14.65), toolbar_location=None,
               output_backend="svg", min_border_left=63, min_border_right=9,
               min_border_top=top, min_border_bottom=bottom)
    p.xgrid.visible = False
    p.ygrid.visible = False
    p.outline_line_color = "#808080"
    p.outline_line_width = 1

    ya = p.yaxis[0]
    ya.ticker = FixedTicker(ticks=FREQ_TICKS)
    ya.axis_line_color = None
    ya.major_tick_out = 5
    ya.major_tick_in = 0
    ya.minor_tick_line_color = None
    ya.major_tick_line_color = "#444444"
    ya.major_label_standoff = 3
    ya.major_label_text_font = FONT
    ya.major_label_text_font_style = "bold"
    ya.major_label_text_font_size = "11px"
    ya.major_label_text_color = INK
    ya.axis_label = "Frequency (Vol%)"
    ya.axis_label_text_font = FONT
    ya.axis_label_text_font_style = "bold"
    ya.axis_label_text_font_size = "13px"
    ya.axis_label_text_color = INK
    ya.axis_label_standoff = 10

    # grain-class tick marks only; labels are drawn in the strip below
    xa = p.xaxis[0]
    xa.ticker = FixedTicker(ticks=GRAIN_TICKS)
    xa.axis_line_color = None
    xa.major_tick_out = 10
    xa.major_tick_in = 0
    xa.minor_tick_line_color = None
    xa.major_tick_line_color = "#555555"
    xa.major_label_text_font_size = "0px"
    xa.major_label_text_color = None
    xa.major_label_standoff = 0

    for phi in GRAIN_CLASS_PHI:
        p.add_layout(Span(location=phi, dimension="height", line_color="#8a8a8a",
                          line_dash="4 3", line_width=1.3))

    xs, ys = zip(*[curve_xy(c) for c in curves])
    p.multi_line(list(xs), list(ys), line_color=INK, line_width=curve_width,
                 line_alpha=0.9)
    add_text(p, 15.9, 8.5, label, 17, align="left")
    return p


f4 = dist_panel(SZ4_CURVES, "Sz 4", 100, 19)
bx, by = curve_xy(SZ4_MEAN)
f4.line(bx, by, line_color="#3d5ca3", line_width=2.6)

f3 = dist_panel(SZ3_CURVES, "Sz 3", 50, 16, curve_width=0.95)

f2 = dist_panel(SZ2_CURVES, "Sz 2", 50, 14, curve_width=0.9)
gx, gy = curve_xy(SZ2_W2_MEAN)
f2.line(gx, gy, line_color="#4f9a2e", line_width=3)
rx, ry = curve_xy(SZ2_W1_MEAN)
f2.line(rx, ry, line_color="#ad3a2a", line_width=3)

f1 = dist_panel(SZ1_CURVES, "Sz 1", 50, 10)

# strip under the last panel: grain-size labels (µm over phi), direction arrows, title
STRIP_H = 72
strip = figure(frame_width=346, frame_height=STRIP_H, x_range=PHI_RANGE,
               y_range=Range1d(0, STRIP_H), x_axis_location=None, y_axis_location=None,
               toolbar_location=None, output_backend="svg", min_border_left=63,
               min_border_right=9, min_border_top=0, min_border_bottom=0)
strip.xgrid.visible = False
strip.ygrid.visible = False
strip.outline_line_color = None
strip.text(x=GRAIN_LABEL_PHI, y=[STRIP_H - 1] * len(GRAIN_LABEL_PHI), text=GRAIN_LABELS,
           text_font=value(FONT), text_font_style="bold", text_font_size="11px",
           text_color=INK, text_align="center", text_baseline="top", text_line_height=1.0)
head = dict(size=6, fill_color=INK, line_color=INK)
strip.add_layout(Arrow(x_start=12.9, y_start=STRIP_H - 7, x_end=10.4, y_end=STRIP_H - 7,
                       end=NormalHead(**head), line_color=INK, line_width=1))
strip.add_layout(Arrow(x_start=10.05, y_start=STRIP_H - 16, x_end=12.7, y_end=STRIP_H - 16,
                       end=NormalHead(**head), line_color=INK, line_width=1))
strip.text(x=[6.44], y=[24], text=["Grain size (µm,ϕ)"], text_font=value(FONT),
           text_font_style="bold", text_font_size="13px", text_color=INK,
           text_align="center", text_baseline="middle")

left_block = row(p_h, p_sz, p_sort, p_skew, p_kurt, p_dep)
right_figs = column(f4, f3, f2, f1, strip)
right_block = column(
    Spacer(width=420, height=11),
    Spacer(width=420, height=2, styles={"background-color": "#222222"}),
    row(Spacer(width=2, height=941, styles={"background-color": "#222222"}), right_figs),
)
layout = row(left_block, Spacer(width=18, height=954), right_block)

open("out.html", "w").write(file_html(layout, INLINE))
